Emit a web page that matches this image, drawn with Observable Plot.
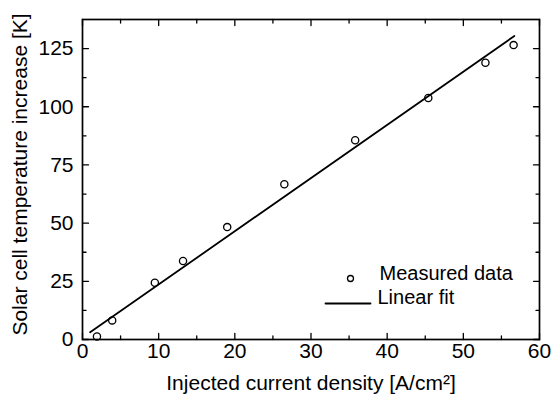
<!DOCTYPE html>
<html><head><meta charset="utf-8">
<script src="https://cdn.jsdelivr.net/npm/d3@7"></script>
<script src="https://cdn.jsdelivr.net/npm/@observablehq/plot@0.6"></script>
<style>body{margin:0;background:#fff}</style>
</head><body><div id="chart"></div>
<script>
const currentDensity = [1.9, 3.9, 9.5, 13.2, 19.0, 26.5, 35.8, 45.4, 52.9, 56.6];
const tempIncrease = [1.3, 8.2, 24.4, 33.7, 48.3, 66.7, 85.6, 103.8, 118.9, 126.5];
const fitX = [1.0, 56.7];
const fitY = [3.1, 130.4];
const xMajor = [0, 10, 20, 30, 40, 50, 60];
const xMinor = [5, 15, 25, 35, 45, 55];
const yMajor = [0, 25, 50, 75, 100, 125];
const yMinor = [12.5, 37.5, 62.5, 87.5, 112.5];
const xTitle = "Injected current density [A/cm²]";
const yTitle = "Solar cell temperature increase [K]";
const legendLabels = ["Measured data", "Linear fit"];

const points = currentDensity.map((x, i) => ({x, y: tempIncrease[i]}));
const fit = fitX.map((x, i) => ({x, y: fitY[i]}));
const lineShape = {draw(ctx, l) { ctx.moveTo(0, 0); ctx.lineTo(0, -l); }};
const tick = (data, side, len) => {
  const horiz = side === "bottom" || side === "top";
  const rot = {bottom: 0, top: 180, left: 90, right: 270}[side];
  return Plot.vector(data, {
    [horiz ? "x" : "y"]: d => d, frameAnchor: side, length: len, rotate: rot,
    anchor: "start", shape: lineShape, stroke: "#000", strokeWidth: 1.3
  });
};

const chart = Plot.plot({
  width: 554, height: 399,
  marginLeft: 82, marginRight: 15, marginTop: 19, marginBottom: 60,
  x: {domain: [0, 60]},
  y: {domain: [0, 137.5]},
  style: {fontFamily: "'Liberation Sans', Arial, sans-serif", fontSize: "21px", color: "#000", background: "#fff", overflow: "visible"},
  marks: [
    Plot.axisX(xMajor, {anchor: "bottom", tickSize: 0, tickPadding: 4, label: null}),
    Plot.axisY(yMajor, {anchor: "left", tickSize: 0, tickPadding: 9, label: null}),
    tick(xMajor, "bottom", 6), tick(xMinor, "bottom", 3.5),
    tick(xMajor, "top", 6), tick(xMinor, "top", 3.5),
    tick(yMajor, "left", 6), tick(yMinor, "left", 3.5),
    tick(yMajor, "right", 6), tick(yMinor, "right", 3.5),
    Plot.frame({stroke: "#000", strokeWidth: 1.7}),
    Plot.line(fit, {x: "x", y: "y", stroke: "#000", strokeWidth: 1.8}),
    Plot.dot(points, {x: "x", y: "y", r: 3.6, stroke: "#000", strokeWidth: 1.3, fill: "none"}),
    Plot.text([xTitle], {frameAnchor: "bottom", dy: 50, textAnchor: "middle", fontSize: 21}),
    Plot.text([yTitle], {frameAnchor: "left", dx: -62, dy: -5, rotate: -90, textAnchor: "middle", fontSize: 21}),
    Plot.dot([0], {frameAnchor: "bottom-right", dx: -189, dy: -61, r: 3, stroke: "#000", strokeWidth: 1.3, fill: "none"}),
    Plot.text([legendLabels[0]], {frameAnchor: "bottom-right", dx: -160, dy: -60, textAnchor: "start", fontSize: 20}),
    Plot.vector([0], {frameAnchor: "bottom-right", dx: -214, dy: -36, length: 45, rotate: 90, anchor: "start", shape: lineShape, stroke: "#000", strokeWidth: 1.8}),
    Plot.text([legendLabels[1]], {frameAnchor: "bottom-right", dx: -162, dy: -36, textAnchor: "start", fontSize: 20})
  ]
});
document.getElementById("chart").appendChild(chart);
</script>
</body></html>
